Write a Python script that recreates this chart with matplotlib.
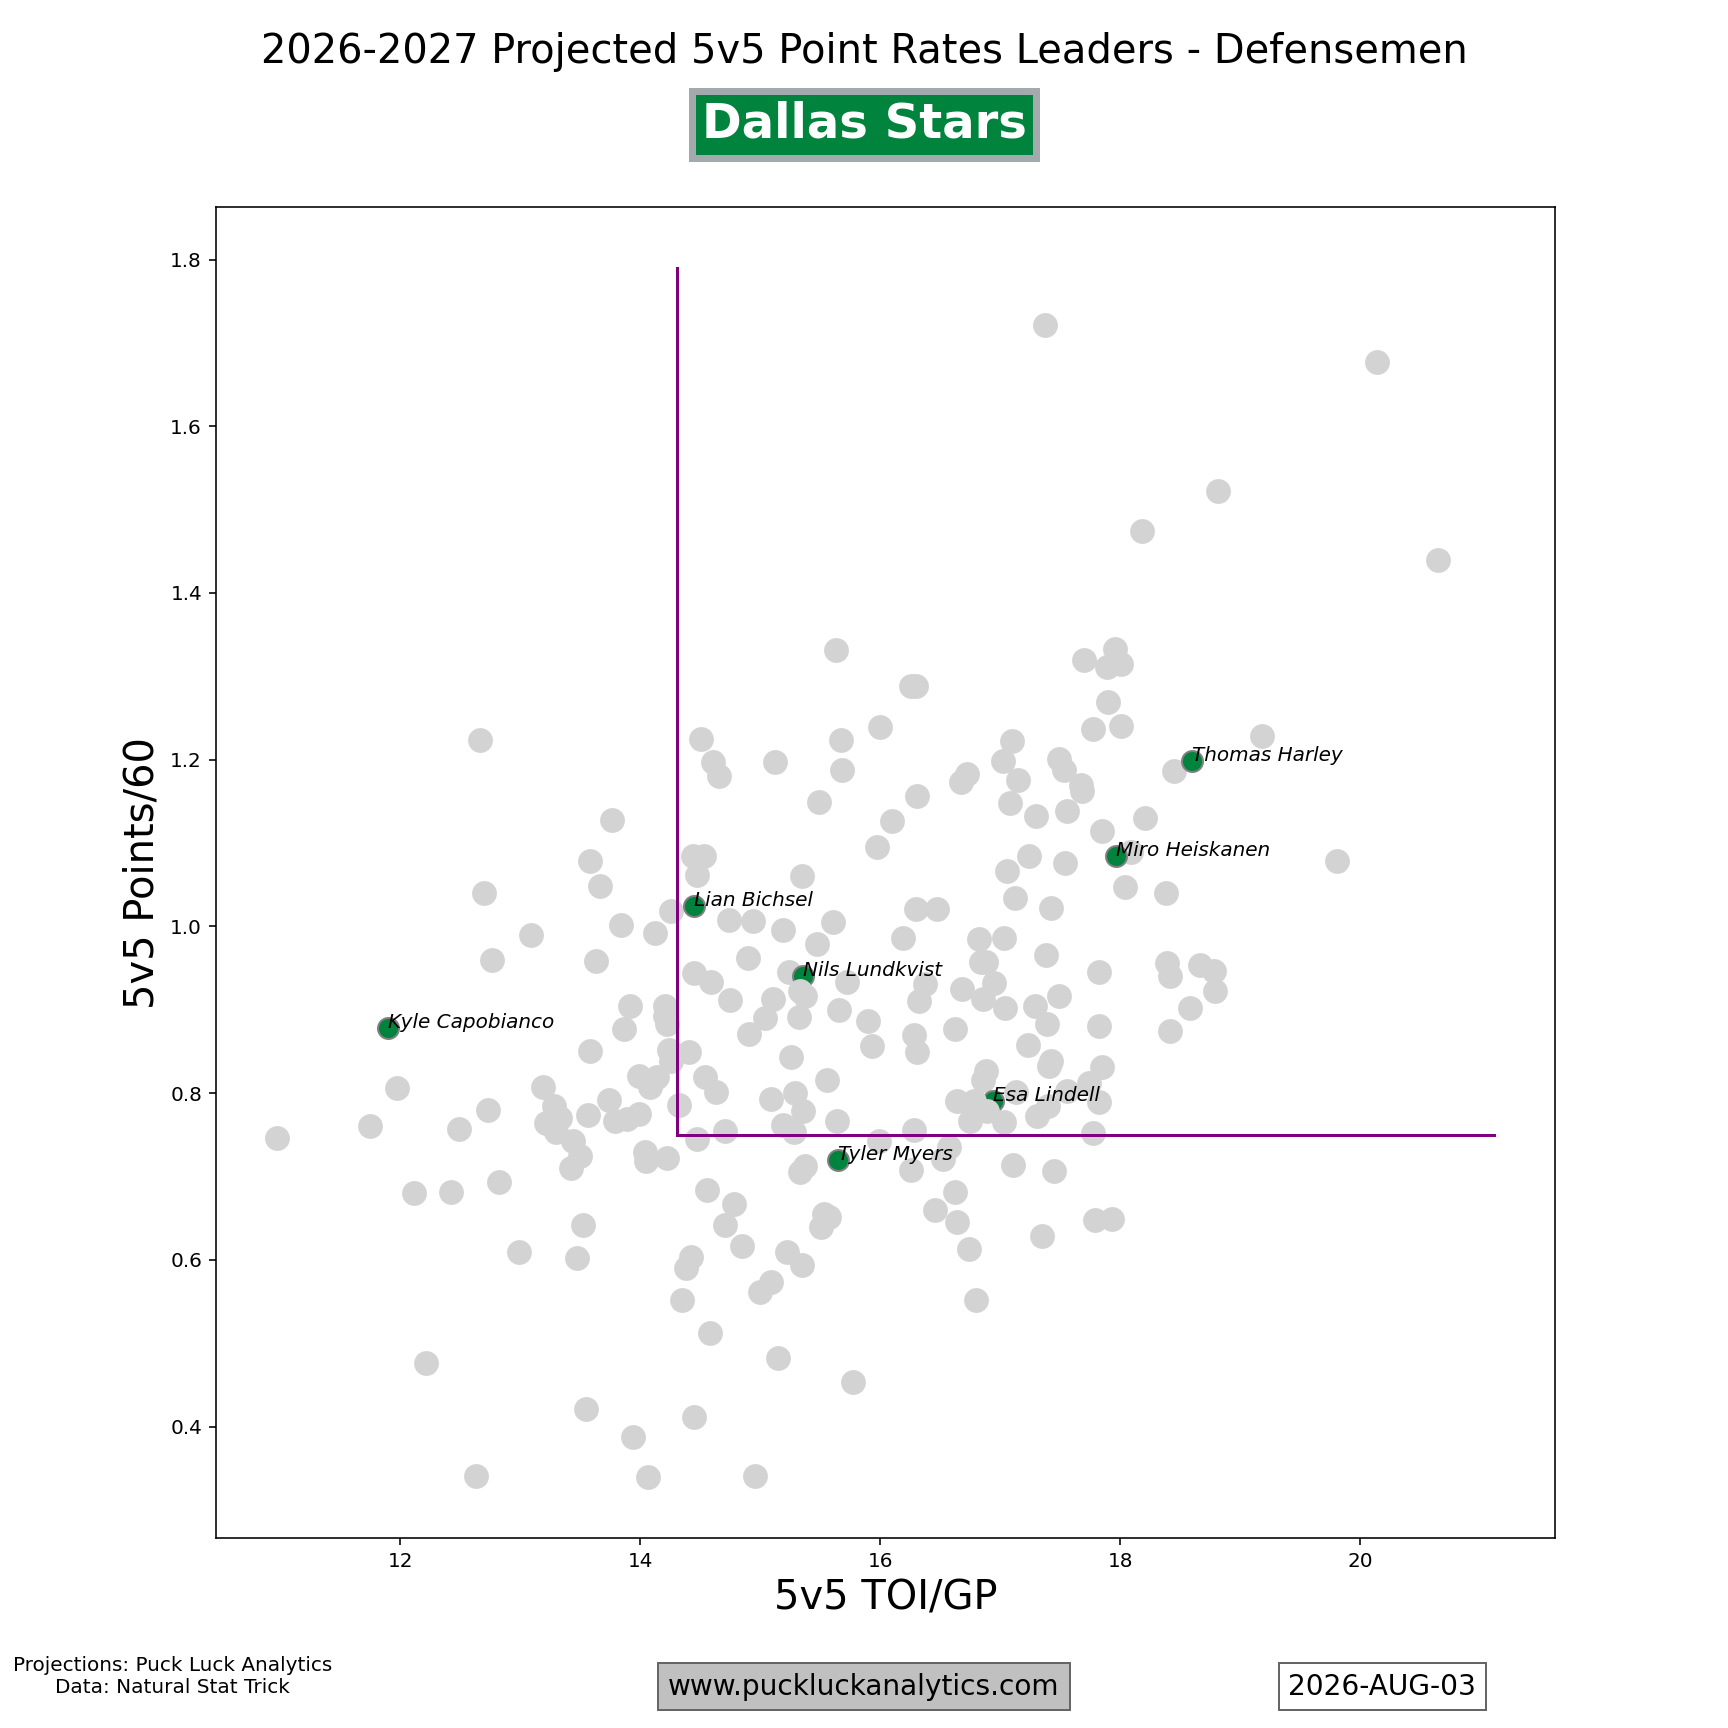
import matplotlib

matplotlib.use("Agg")
import matplotlib.pyplot as plt

team_name = "Dallas Stars"
team_color = "#00843D"
team_edge = "#A2AAAD"

# league-wide defensemen (5v5 TOI/GP, 5v5 points/60)
league_toi = [
    10.97, 11.75, 11.97, 12.11, 12.21, 12.42, 12.49, 12.63, 12.66, 12.70,
    12.73, 12.76, 12.82, 12.99, 13.09, 13.19, 13.21, 13.28, 13.30, 13.33,
    13.42, 13.44, 13.47, 13.50, 13.52, 13.55, 13.56, 13.58, 13.58, 13.63,
    13.66, 13.74, 13.76, 13.79, 13.84, 13.86, 13.89, 13.91, 13.94, 13.99,
    13.99, 14.04, 14.05, 14.06, 14.08, 14.12, 14.14, 14.21, 14.21, 14.22,
    14.22, 14.24, 14.26, 14.26, 14.32, 14.35, 14.38, 14.41, 14.42, 14.44,
    14.45, 14.45, 14.47, 14.47, 14.51, 14.53, 14.54, 14.56, 14.59, 14.58,
    14.61, 14.63, 14.66, 14.71, 14.71, 14.74, 14.75, 14.78, 14.85, 14.90,
    14.91, 14.94, 14.96, 15.00, 15.04, 15.09, 15.09, 15.12, 15.11, 15.15,
    15.19, 15.19, 15.22, 15.24, 15.26, 15.29, 15.28, 15.33, 15.32, 15.35,
    15.35, 15.36, 15.37, 15.47, 15.49, 15.51, 15.53, 15.57, 15.56, 15.63,
    15.61, 15.64, 15.67, 15.68, 15.66, 15.72, 15.77, 15.90, 15.93, 15.97,
    15.99, 16.00, 16.10, 16.19, 16.26, 16.26, 16.28, 16.30, 16.28, 16.31,
    16.30, 16.32, 16.31, 16.37, 16.46, 16.47, 16.52, 16.57, 16.62, 16.62,
    16.67, 16.64, 16.64, 16.68, 16.72, 16.74, 16.75, 16.80, 16.82, 16.84,
    16.86, 16.86, 16.88, 16.88, 16.95, 17.02, 17.03, 17.04, 17.06, 17.08,
    17.10, 17.11, 17.12, 17.13, 17.15, 17.23, 17.24, 17.29, 17.30, 17.31,
    17.35, 17.37, 17.38, 17.39, 17.40, 17.41, 17.42, 17.42, 17.45, 17.49,
    17.49, 17.53, 17.54, 17.56, 17.56, 17.67, 17.68, 17.70, 17.74, 17.77,
    17.77, 17.79, 17.82, 17.82, 17.82, 17.85, 17.85, 17.89, 17.90, 17.93,
    17.96, 18.01, 18.01, 18.04, 18.09, 18.18, 18.21, 18.38, 18.39, 18.42,
    18.42, 18.45, 18.58, 18.67, 18.78, 18.79, 18.82, 19.18, 19.81, 20.14,
    20.65,
]
league_pts = [
    0.746, 0.761, 0.806, 0.680, 0.476, 0.681, 0.757, 0.341, 1.224, 1.040,
    0.780, 0.960, 0.694, 0.610, 0.990, 0.807, 0.764, 0.785, 0.753, 0.770,
    0.710, 0.743, 0.602, 0.725, 0.642, 0.421, 0.774, 1.078, 0.850, 0.958,
    1.049, 0.792, 1.128, 0.766, 1.002, 0.877, 0.769, 0.905, 0.388, 0.821,
    0.775, 0.729, 0.719, 0.339, 0.807, 0.992, 0.819, 0.905, 0.893, 0.883,
    0.722, 0.852, 0.839, 1.018, 0.786, 0.552, 0.590, 0.849, 0.603, 1.085,
    0.944, 0.411, 1.062, 0.745, 1.225, 1.085, 0.819, 0.684, 0.933, 0.512,
    1.197, 0.801, 1.180, 0.642, 0.755, 1.008, 0.912, 0.667, 0.617, 0.962,
    0.871, 1.006, 0.341, 0.562, 0.890, 0.573, 0.793, 1.197, 0.913, 0.482,
    0.996, 0.762, 0.610, 0.945, 0.843, 0.800, 0.753, 0.705, 0.891, 1.060,
    0.594, 0.779, 0.713, 0.979, 1.149, 0.640, 0.655, 0.651, 0.816, 1.332,
    1.005, 0.766, 1.224, 1.188, 0.900, 0.933, 0.454, 0.886, 0.856, 1.095,
    0.743, 1.239, 1.127, 0.986, 1.288, 0.708, 0.870, 1.288, 0.756, 1.156,
    1.021, 0.910, 0.849, 0.931, 0.660, 1.021, 0.721, 0.735, 0.877, 0.682,
    1.173, 0.791, 0.646, 0.925, 1.183, 0.613, 0.767, 0.552, 0.985, 0.957,
    0.913, 0.816, 0.957, 0.826, 0.932, 1.199, 0.986, 0.902, 1.067, 1.148,
    1.222, 0.714, 1.034, 0.801, 1.176, 0.858, 1.085, 0.905, 1.132, 0.773,
    0.629, 1.721, 0.966, 0.883, 0.785, 0.832, 1.022, 0.838, 0.707, 0.916,
    1.201, 1.188, 1.076, 1.138, 0.802, 1.170, 1.162, 1.319, 0.812, 0.752,
    1.237, 0.648, 0.945, 0.881, 0.789, 1.114, 0.831, 1.311, 1.269, 0.649,
    1.333, 1.241, 1.315, 1.047, 1.089, 1.474, 1.130, 1.040, 0.956, 0.940,
    0.874, 1.187, 0.902, 0.954, 0.946, 0.922, 1.522, 1.228, 1.078, 1.677,
    1.439,
]

# a few league points that sit on top of the team markers
front_toi = [15.33, 15.37, 16.78, 16.89, 17.03]
front_pts = [0.923, 0.917, 0.790, 0.779, 0.765]

team_players = ["Kyle Capobianco", "Lian Bichsel", "Nils Lundkvist", "Tyler Myers",
                "Esa Lindell", "Miro Heiskanen", "Thomas Harley"]
team_toi = [11.90, 14.45, 15.36, 15.65, 16.94, 17.97, 18.60]
team_pts = [0.878, 1.024, 0.940, 0.720, 0.790, 1.085, 1.199]

# leader thresholds
toi_cut = 14.31
pts_cut = 0.75
toi_line_end = 21.12
pts_line_end = 1.79

fig, ax = plt.subplots(figsize=(12, 12), dpi=144)

ax.scatter(league_toi, league_pts, s=130, color="lightgray", zorder=2)
ax.scatter(team_toi, team_pts, s=110, color=team_color, edgecolors="gray", linewidths=1, zorder=3)
ax.scatter(front_toi, front_pts, s=130, color="lightgray", zorder=4)

for name, x, y in zip(team_players, team_toi, team_pts):
    ax.text(x, y, name, fontsize=10, style="italic", zorder=6)

ax.plot([toi_cut, toi_cut], [pts_cut, pts_line_end], color="purple", lw=1.5, zorder=5)
ax.plot([toi_cut, toi_line_end], [pts_cut, pts_cut], color="purple", lw=1.5, zorder=5)

ax.set_xlabel("5v5 TOI/GP", fontsize=20)
ax.set_ylabel("5v5 Points/60", fontsize=20)
ax.tick_params(labelsize=10)

fig.text(0.5, 0.97, "2026-2027 Projected 5v5 Point Rates Leaders - Defensemen",
         fontsize=20, ha="center", va="center")
fig.text(0.5, 0.928, team_name, fontsize=24, fontweight="bold", color="white",
         ha="center", va="center",
         bbox=dict(boxstyle="square,pad=0.2", facecolor=team_color, edgecolor=team_edge, linewidth=3.5))

fig.text(0.1, 0.030, "Projections: Puck Luck Analytics\nData: Natural Stat Trick",
         fontsize=10, ha="center", va="center")
fig.text(0.5, 0.024, "www.puckluckanalytics.com", fontsize=14, ha="center", va="center",
         bbox=dict(boxstyle="square,pad=0.35", facecolor="#C0C0C0", edgecolor="#666666", linewidth=1))
fig.text(0.80, 0.024, "2026-AUG-03", fontsize=14, ha="center", va="center",
         bbox=dict(boxstyle="square,pad=0.35", facecolor="white", edgecolor="#666666", linewidth=1))

fig.savefig("out.png", dpi=144)
